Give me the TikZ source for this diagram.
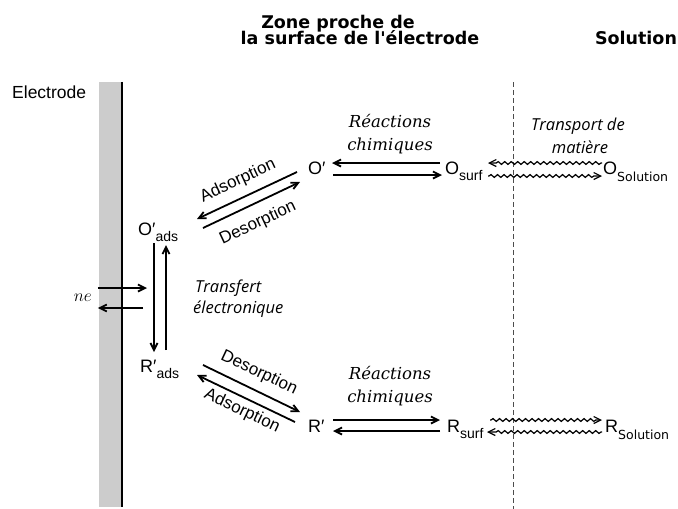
\documentclass[tikz,border=0pt]{standalone}
\usepackage{fontspec}
\setmainfont{Liberation Sans}
\newfontfamily\titlefont{DejaVu Sans}
\newfontfamily\rcfont{DejaVu Serif}
\newfontfamily\tfont{Open Sans}
\usetikzlibrary{arrows.meta,decorations.pathmorphing}

\begin{document}
\begin{tikzpicture}[x=1pt,y=-1pt,
  sp/.style={anchor=base west,inner sep=0pt,font=\fontsize{18}{18}\selectfont},
  lab/.style={inner sep=0pt,font=\fontsize{17}{17}\selectfont},
  rc/.style={inner sep=0pt,align=center,font=\rcfont\itshape\fontsize{16.5}{23.5}\selectfont},
  tr/.style={inner sep=0pt,font=\tfont\itshape\fontsize{16.5}{20}\selectfont},
  ttl/.style={inner sep=0pt,anchor=base,font=\titlefont\bfseries\fontsize{17.5}{17.5}\selectfont},
  harp/.style={-{Straight Barb[length=7pt,width=7pt]},line width=1.8pt},
  wave/.style={harp,line width=1.2pt,decorate,decoration={snake,amplitude=1.4pt,segment length=6.5pt,pre length=1pt,post length=6pt}}]
\def\sub#1{\raisebox{-6pt}{\fontsize{14}{14}\selectfont #1}}
\def\subsol#1{\raisebox{-7pt}{\titlefont\fontsize{12.5}{12.5}\selectfont #1}}
\useasboundingbox (0,0) rectangle (678,509);
% titles
\node[ttl] (t1) at (338,28) {Zone proche de};
\node[ttl] (t2) at (360,44) {la surface de l'électrode};
\node[ttl] (t3) at (636,44) {Solution};
% electrode and limit of the zone
\node[draw=none,fill=black!20,minimum width=23,minimum height=425,inner sep=0pt] (el) at (110.5,294.5) {};
\draw[line width=1.6pt] (el.north east) -- (el.south east);
\node[anchor=base west,inner sep=0pt,font=\fontsize{17.5}{17.5}\selectfont] (elab) at (12,98) {Electrode};
\coordinate (dtop) at (513,82);
\coordinate (dbot) at (513,509);
\draw[black!70,line width=0.9pt,dash pattern=on 5pt off 3pt] (dtop) -- (dbot);
% species
\node[sp] (Oads) at (138,235) {O′\sub{ads}};
\node[sp] (Rads) at (140,372) {R′\sub{ads}};
\node[sp] (Op) at (308,174) {O′};
\node[sp] (Rp) at (308,432) {R′};
\node[sp] (Osurf) at (445,174) {O\sub{surf}};
\node[sp] (Rsurf) at (447,432) {R\sub{surf}};
\node[sp] (Osol) at (603,174) {O\subsol{Solution}};
\node[sp] (Rsol) at (605,432) {R\subsol{Solution}};
% electron transfer
\coordinate (etr) at (147,294.5);
\draw[harp] ([shift={(-1,-6.5)}]el.west) -- ([shift={(0,-6.5)}]etr);
\draw[harp] ([shift={(-4,13.5)}]etr) -- ([shift={(-1,13.5)}]el.west);
\node[lab,anchor=east] (ne) at (92,298) {$ne$};
\draw[harp] ([shift={(16,8)}]Oads.base west) -- ([shift={(14,-20)}]Rads.base west);
\draw[harp] ([shift={(26,-22)}]Rads.base west) -- ([shift={(28,10)}]Oads.base west);
\node[tr,anchor=base west] (tr1) at (195,292) {Transfert};
\node[tr,anchor=base west] (tr2) at (193,313) {électronique};
% adsorption / desorption
\draw[harp] ([shift={(-11,-2)}]Op.base west) -- ([shift={(59,-16)}]Oads.base west);
\draw[harp] ([shift={(65,-7)}]Oads.base west) -- ([shift={(-8,8)}]Op.base west);
\node[lab,rotate=25.2] (ad1) at (238,181) {Adsorption};
\node[lab,rotate=25.2] (de1) at (258,223) {Desorption};
\draw[harp] ([shift={(63,-7)}]Rads.base west) -- ([shift={(-8,-20)}]Rp.base west);
\draw[harp] ([shift={(-13,-10)}]Rp.base west) -- ([shift={(57,3)}]Rads.base west);
\node[lab,rotate=-25.2] (de2) at (259,373) {Desorption};
\node[lab,rotate=-25.2] (ad2) at (242,411) {Adsorption};
% chemical reactions
\draw[harp] ([shift={(-5,-11)}]Osurf.base west) -- ([shift={(24,-11)}]Op.base west);
\draw[harp] ([shift={(25,1)}]Op.base west) -- ([shift={(-3,1)}]Osurf.base west);
\node[rc] (rc1) at (390,134) {Réactions\\chimiques};
\draw[harp] ([shift={(25,-12)}]Rp.base west) -- ([shift={(-7,-12)}]Rsurf.base west);
\draw[harp] ([shift={(-7,-1)}]Rsurf.base west) -- ([shift={(25,-1)}]Rp.base west);
\node[rc] (rc2) at (390,386) {Réactions\\chimiques};
% mass transport
\draw[wave] ([shift={(-1,-11)}]Osol.base west) -- ([shift={(43,-11)}]Osurf.base west);
\draw[wave] ([shift={(43,2)}]Osurf.base west) -- ([shift={(-1,2)}]Osol.base west);
\node[tr,anchor=base] (tm1) at (578,130) {Transport de};
\node[tr,anchor=base] (tm2) at (580,153) {matière};
\draw[wave] ([shift={(43,-12)}]Rsurf.base west) -- ([shift={(-3,-12)}]Rsol.base west);
\draw[wave] ([shift={(-3,0)}]Rsol.base west) -- ([shift={(40,0)}]Rsurf.base west);
\end{tikzpicture}
\end{document}
